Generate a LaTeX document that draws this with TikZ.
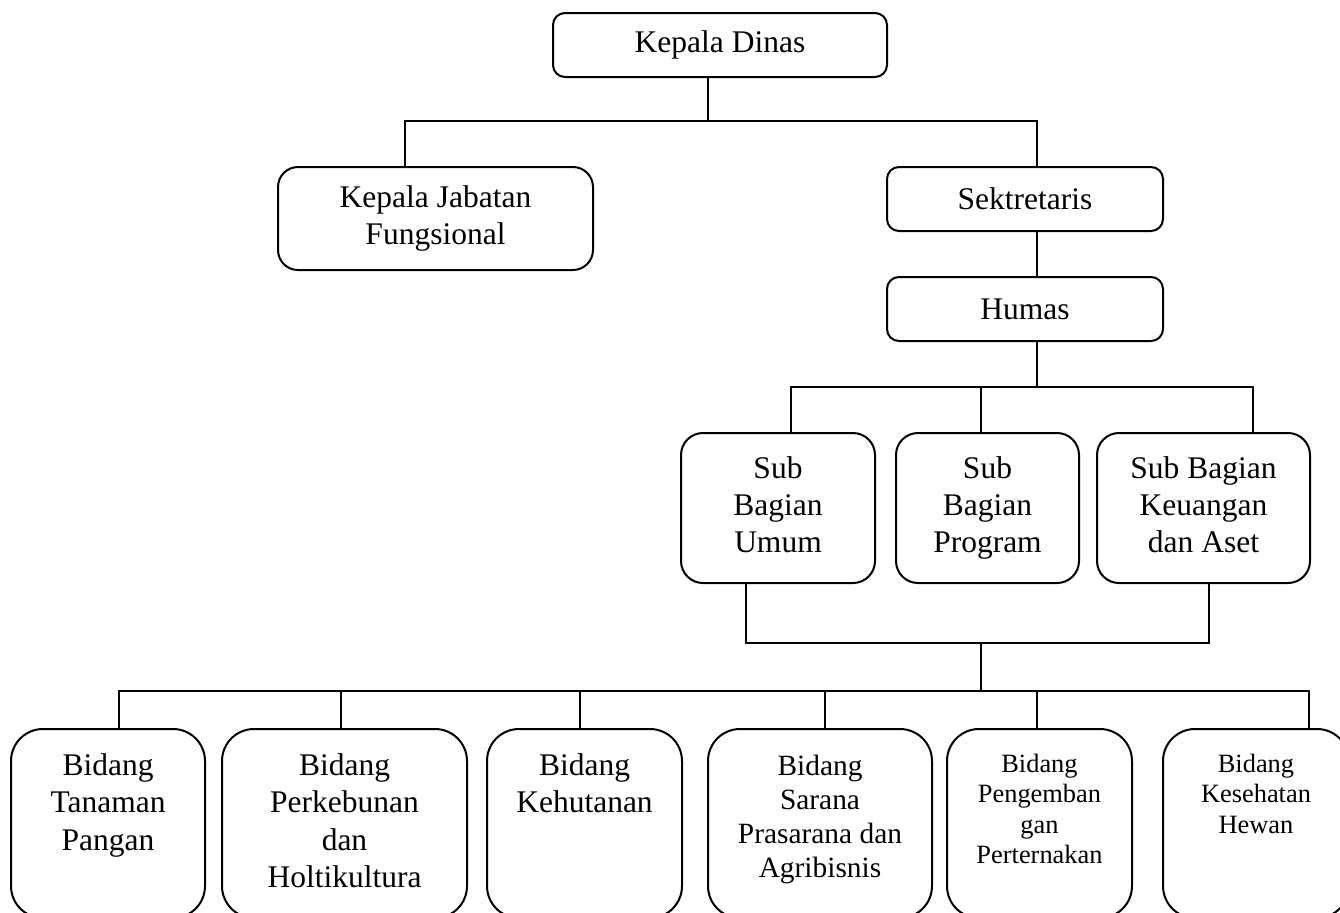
\documentclass[tikz,border=0pt]{standalone}
\usepackage{fontspec}
\setmainfont{Liberation Serif}
\newcommand{\bidbox}[4]{\begin{minipage}[c][#2][t]{#1}\centering\vspace*{#3}#4\end{minipage}}
\begin{document}
\begin{tikzpicture}[x=0.5pt,y=-0.5pt,
  conn/.style={draw, line width=1pt},
  box/.style={draw, line width=1pt, rectangle, align=center, inner sep=0pt,
    font=\fontsize{15.75pt}{18.5pt}\selectfont},
  smallr/.style={rounded corners=6pt},
  midr/.style={rounded corners=10pt},
  subr/.style={rounded corners=11pt},
  bigr/.style={rounded corners=16pt},
  fA/.style={font=\fontsize{15.75pt}{18.75pt}\selectfont},
  fB/.style={font=\fontsize{14.7pt}{17pt}\selectfont},
  fC/.style={font=\fontsize{13.2pt}{15.25pt}\selectfont}]
\clip (0,0) rectangle (1340,912);
\fill[white] (0,0) rectangle (1340,912);

% top levels
\node[box, smallr, minimum width=167pt, minimum height=32pt] (kd) at (720,45) {Kepala Dinas};
\node[box, midr, minimum width=157.5pt, minimum height=51.5pt] (kjf) at (435.5,218.5) {\strut Kepala Jabatan\\Fungsional\strut};
\node[box, smallr, minimum width=138pt, minimum height=32pt] (sek) at (1025,199) {Sektretaris};
\node[box, smallr, minimum width=138pt, minimum height=32pt] (hum) at (1025,309) {Humas};

% sub bagian
\node[box, subr, minimum width=97pt, minimum height=75pt] (sbu) at (778,508) {\strut Sub\\Bagian\\Umum\strut};
\node[box, subr, minimum width=91.5pt, minimum height=75pt] (sbp) at (987.5,508) {\strut Sub\\Bagian\\Program\strut};
\node[box, subr, minimum width=106.5pt, minimum height=75pt] (sbk) at (1203.5,508) {\strut Sub Bagian\\Keuangan\\dan Aset\strut};

% bidang
\node[box, bigr, fA] (bd1) at (108,823.5) {\bidbox{97pt}{94.5pt}{12.2pt}{Bidang\\Tanaman\\Pangan}};
\node[box, bigr, fA] (bd2) at (344.5,823.5) {\bidbox{122.5pt}{94.5pt}{12.2pt}{Bidang\\Perkebunan\\dan\\Holtikultura}};
\node[box, bigr, fA] (bd3) at (584.5,823.5) {\bidbox{97.5pt}{94.5pt}{12.2pt}{Bidang\\Kehutanan}};
\node[box, bigr, fB] (bd4) at (820,823.5) {\bidbox{112pt}{94.5pt}{13pt}{Bidang\\Sarana\\Prasarana dan\\Agribisnis}};
\node[box, bigr, fC] (bd5) at (1039.5,823.5) {\bidbox{92.5pt}{94.5pt}{12.5pt}{Bidang\\Pengemban\\gan\\Perternakan}};
\node[box, bigr, fC] (bd6) at (1256,823.5) {\bidbox{93pt}{94.5pt}{12.5pt}{Bidang\\Kesehatan\\Hewan}};

% junction coordinates
\coordinate (j0) at (708,121);
\coordinate (jL) at (405,121);
\coordinate (jR) at (1037,121);
\coordinate (h0) at (1037,387);
\coordinate (hL) at (791,387);
\coordinate (hM) at (981,387);
\coordinate (hR) at (1253,387);
\coordinate (b1) at (746,643);
\coordinate (b0) at (981,643);
\coordinate (b2) at (1209,643);
\coordinate (c0) at (981,691);
\coordinate (c1) at (119,691);
\coordinate (c2) at (341,691);
\coordinate (c3) at (580,691);
\coordinate (c4) at (825,691);
\coordinate (c5) at (1037,691);
\coordinate (c6) at (1309,691);

% connectors
\draw[conn] (kd.south -| j0) -- (j0);
\draw[conn] (kjf.north -| jL) -- (jL) -- (jR) -- (sek.north -| jR);
\draw[conn] (sek.south -| jR) -- (hum.north -| jR);
\draw[conn] (hum.south -| h0) -- (h0);
\draw[conn] (sbu.north -| hL) -- (hL) -- (hR) -- (sbk.north -| hR);
\draw[conn] (hM) -- (sbp.north -| hM);
\draw[conn] (sbu.south -| b1) -- (b1) -- (b2) -- (sbk.south -| b2);
\draw[conn] (b0) -- (c0);
\draw[conn] (bd1.north -| c1) -- (c1) -- (c6) -- (bd6.north -| c6);
\draw[conn] (c2) -- (bd2.north -| c2);
\draw[conn] (c3) -- (bd3.north -| c3);
\draw[conn] (c4) -- (bd4.north -| c4);
\draw[conn] (c5) -- (bd5.north -| c5);
\end{tikzpicture}
\end{document}
